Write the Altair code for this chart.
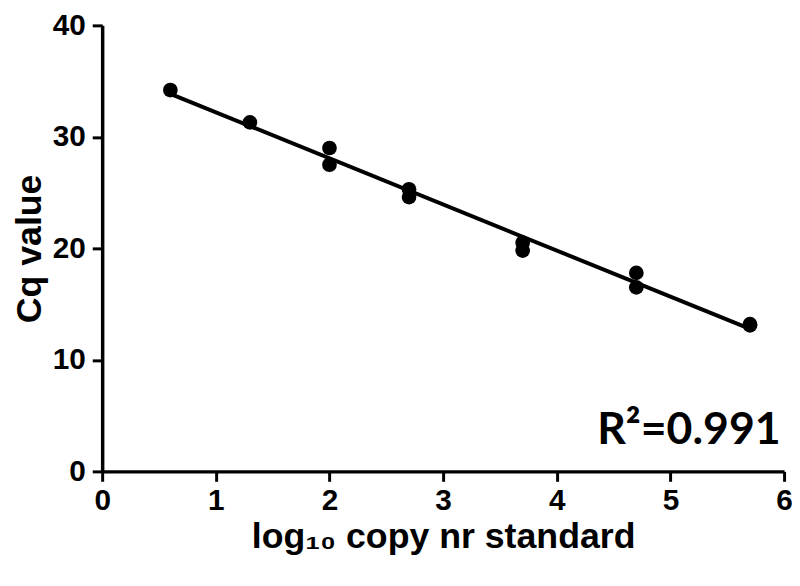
import altair as alt
import pandas as pd

# data
log_copy = [0.6, 1.3, 2.0, 2.0, 2.7, 2.7, 3.7, 3.7, 4.7, 4.7, 5.7, 5.7]
cq_value = [34.2, 31.3, 29.0, 27.5, 25.3, 24.6, 20.5, 19.8, 17.8, 16.5, 13.2, 13.1]
x_ticks = [0, 1, 2, 3, 4, 5, 6]
y_ticks = [0, 10, 20, 30, 40]
r2_label = ["R²=0.991"]

df = pd.DataFrame({"x": log_copy, "y": cq_value})
ann = pd.DataFrame({"x": [5.97], "y": [2.5], "t": r2_label})

FONT = "Liberation Sans"

xs = alt.Scale(domain=[0, 6], nice=False, zero=False)
ys = alt.Scale(domain=[0, 40], nice=False)

xax = alt.Axis(values=x_ticks, title="log₁₀ copy nr standard", format="d",
               titlePadding=5, labelPadding=4)
yax = alt.Axis(values=y_ticks, title="Cq value", format="d",
               titlePadding=4, labelPadding=7)

pts = alt.Chart(df).mark_circle(size=220, color="black", opacity=1).encode(
    x=alt.X("x:Q", scale=xs, axis=xax),
    y=alt.Y("y:Q", scale=ys, axis=yax),
)

line = alt.Chart(df).transform_regression(
    "x", "y", method="linear", extent=[0.6, 5.7]
).mark_line(color="black", strokeWidth=4).encode(
    x=alt.X("x:Q", scale=xs),
    y=alt.Y("y:Q", scale=ys),
)

txt = alt.Chart(ann).mark_text(
    align="right", baseline="alphabetic", font="Lato", fontWeight="bold",
    fontSize=45, color="black"
).encode(
    x=alt.X("x:Q", scale=xs),
    y=alt.Y("y:Q", scale=ys),
    text="t:N",
)

chart = alt.layer(line, pts, txt).properties(
    width=688, height=450,
    autosize=alt.AutoSizeParams(type="none"),
    padding={"left": 95, "top": 15, "right": 8, "bottom": 100},
).configure_view(stroke=None).configure_axis(
    grid=False,
    domainColor="black", domainWidth=3.5,
    tickColor="black", tickWidth=3, tickSize=10,
    labelFont=FONT, labelFontWeight="bold", labelFontSize=30, labelColor="black",
    titleFont=FONT, titleFontWeight="bold", titleFontSize=36, titleColor="black",
    labelFlush=False, labelOverlap=False,
)

chart.save("out.html", embed_options={"renderer": "svg", "actions": False})
